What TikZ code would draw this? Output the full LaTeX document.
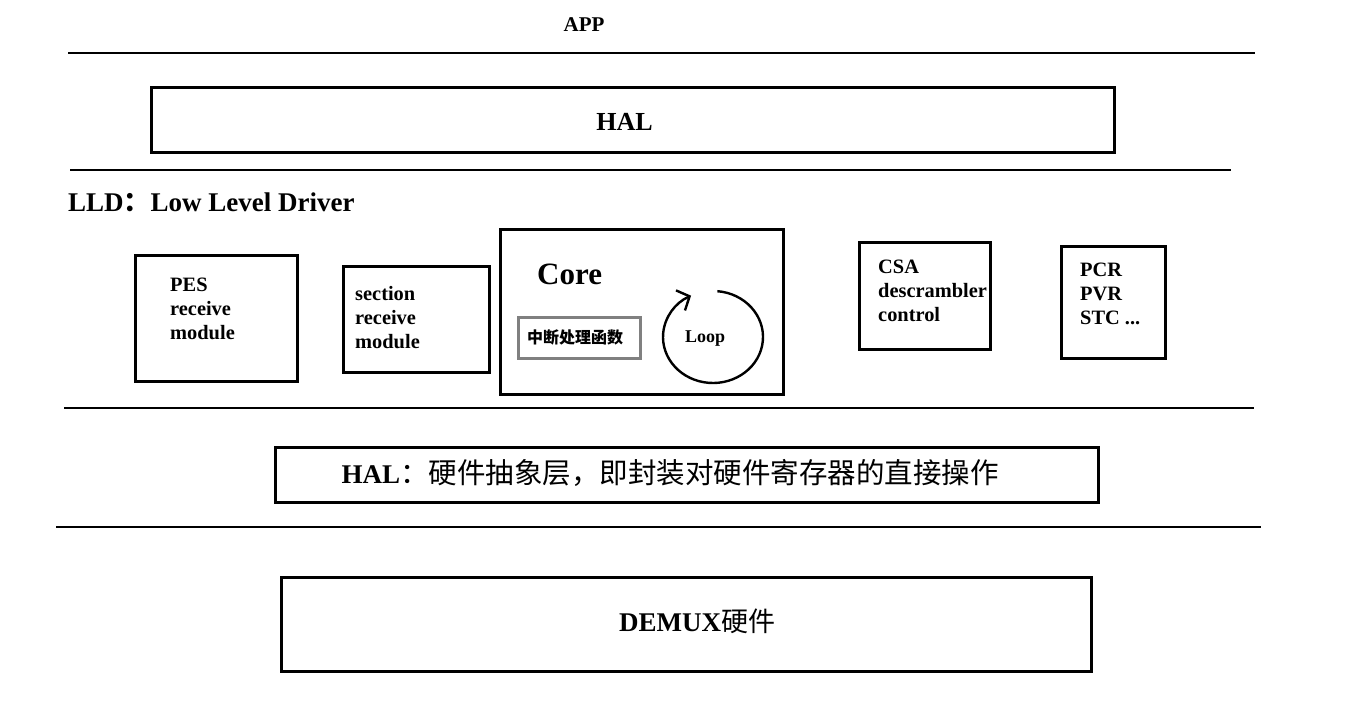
\documentclass[tikz,border=0pt]{standalone}
\usepackage{fontspec}
\setmainfont{Liberation Serif}
\newfontfamily\cjk{Noto Sans CJK SC}
\usetikzlibrary{arrows.meta}
\newcommand{\fsz}[2]{\fontsize{#1}{#2}\selectfont}
\begin{document}
\begin{tikzpicture}[x=1pt,y=-1pt,
  sep/.style={line width=2.8pt},
  box/.style={draw, line width=3pt, inner sep=0pt},
  graybox/.style={draw=gray, line width=3pt, inner sep=0pt},
  lbl/.style={inner sep=0pt, font=\bfseries},
  modtxt/.style={inner sep=0pt, anchor=base west, font=\bfseries\fsz{20.4}{24}},
]
\path[use as bounding box] (0,0) rectangle (1356,723);

% separator lines
\draw[sep] (68,53) -- (1255,53);
\draw[sep] (70,170) -- (1231,170);
\draw[sep] (64,408) -- (1254,408);
\draw[sep] (56,527) -- (1261,527);

% top
\node[lbl, font=\bfseries\fsz{21}{24}] (app) at (584,25) {APP};
\node[box, minimum width=963pt, minimum height=65pt] (halbox) at (632.5,119.5) {};
\node[lbl, font=\bfseries\fsz{26}{30}] (halt) at (624.5,122) {HAL};

\node[lbl, anchor=west, font=\bfseries\fsz{27}{30}] (lld) at (68,202) {LLD{\cjk ：}Low Level Driver};

% modules
\node[box, minimum width=162pt, minimum height=126pt] (pes) at (216,318) {};
\node[modtxt] (pest) at (170,291) {\begin{tabular}[t]{@{}l@{}}PES\\receive\\module\end{tabular}};

\node[box, minimum width=146pt, minimum height=106pt] (sec) at (416,319) {};
\node[modtxt] (sect) at (355,300) {\begin{tabular}[t]{@{}l@{}}section\\receive\\module\end{tabular}};

\node[box, minimum width=283pt, minimum height=165pt] (core) at (641.5,311.5) {};
\node[lbl, anchor=west, font=\bfseries\fsz{31}{34}] (coret) at (537,274) {Core};
\node[graybox, minimum width=122pt, minimum height=41pt] (irq) at (579,337.5) {};
\node[lbl, font=\cjk\bfseries\fsz{16}{18}] (irqt) at (575,337.5) {中断处理函数};
\node[lbl, font=\bfseries\fsz{18}{20}] (loopt) at (705,339) {Loop};
\coordinate (loopc) at (713,337);
\draw[line width=2.4pt, -{Straight Barb[length=10pt,width=22pt,line width=2.4pt]}]
  (loopc) ++(-85:50 and 46) arc[start angle=-85, end angle=244, x radius=50, y radius=46];

\node[box, minimum width=131pt, minimum height=107pt] (csa) at (924.5,295.5) {};
\node[modtxt] (csat) at (878,273) {\begin{tabular}[t]{@{}l@{}}CSA\\descrambler\\control\end{tabular}};

\node[box, minimum width=104pt, minimum height=112pt] (pcr) at (1113,302) {};
\node[modtxt] (pcrt) at (1080,276) {\begin{tabular}[t]{@{}l@{}}PCR\\PVR\\STC ...\end{tabular}};

% HAL layer
\node[box, minimum width=823pt, minimum height=55pt] (hal2) at (686.5,474.5) {};
\node[lbl, font=\fsz{28.5}{32}] (hal2t) at (670,473) {\textbf{\fsz{27}{30}HAL}\cjk ：硬件抽象层，即封装对硬件寄存器的直接操作};

% DEMUX
\node[box, minimum width=810pt, minimum height=94pt] (demux) at (686,624) {};
\node[lbl, font=\bfseries\fsz{27}{30}] (demuxt) at (697,621) {DEMUX{\cjk\mdseries 硬件}};
\end{tikzpicture}
\end{document}
